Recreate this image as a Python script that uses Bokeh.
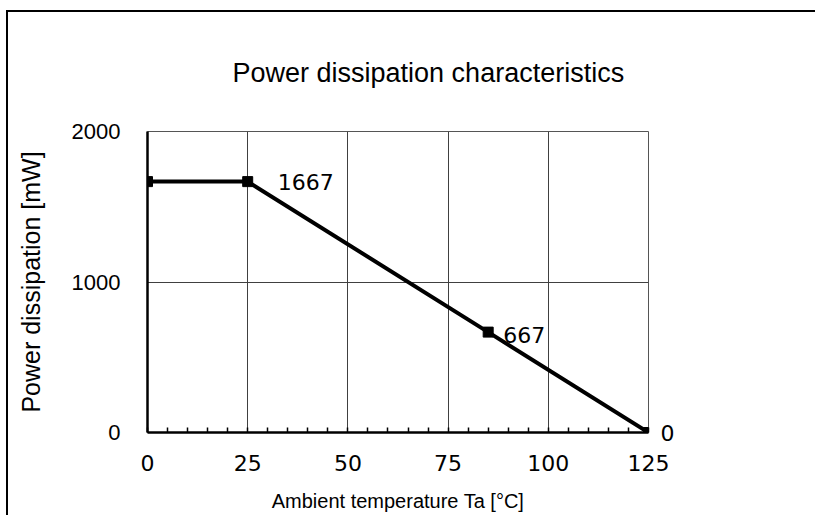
from bokeh.plotting import figure
from bokeh.models import Range1d, FixedTicker, Label, LinearAxis
from bokeh.embed import file_html
from bokeh.resources import INLINE

# Data
temp = [0, 25, 85, 125]
power = [1667, 1667, 667, 0]
x_ticks = [0, 25, 50, 75, 100, 125]
x_minor = list(range(0, 126, 5))
y_ticks = [0, 1000, 2000]
label_idx = [1, 2]
label_text = ["1667", "667"]
end_idx = 3
end_text = "0"

title_text = "Power dissipation characteristics"
x_title = "Ambient temperature Ta [°C]"
y_title = "Power dissipation [mW]"

ARIAL = "Liberation Sans"
NUMF = "DejaVu Sans"

p = figure(width=809, height=505, output_backend="svg", toolbar_location=None,
           x_range=Range1d(0, 125), y_range=Range1d(0, 2000),
           min_border_left=139, min_border_right=169,
           min_border_top=119, min_border_bottom=85)

p.styles = {"margin-left": "6px", "margin-top": "10px",
            "border-left": "2px solid black", "border-top": "2px solid black"}

p.background_fill_color = "white"
p.border_fill_color = "white"
p.outline_line_color = "#555555"
p.outline_line_width = 1

# title
p.title.text = title_text
p.title.text_font = ARIAL
p.title.text_font_size = "27px"
p.title.text_font_style = "normal"
p.title.text_color = "black"
p.title.align = "left"
p.title.offset = 85
p.title.vertical_align = "top"
p.title.standoff = 84

# grids
p.xgrid.ticker = FixedTicker(ticks=x_ticks)
p.ygrid.ticker = FixedTicker(ticks=y_ticks)
for g in (p.xgrid, p.ygrid):
    g.grid_line_color = "#404040"
    g.grid_line_width = 1

# x axis
xa = p.below[0]
xa.ticker = FixedTicker(ticks=x_ticks, minor_ticks=x_minor)
xa.axis_line_width = 2.5
xa.axis_line_color = "black"
xa.major_tick_in = 0
xa.major_tick_out = 0
xa.minor_tick_in = 5
xa.minor_tick_out = 0
xa.minor_tick_line_width = 1.5
xa.minor_tick_line_color = "black"
xa.major_label_standoff = 22
xa.major_label_text_font = NUMF
xa.major_label_text_font_size = "22px"
xa.major_label_text_color = "black"
xa.axis_label = x_title
xa.axis_label_text_font = ARIAL
xa.axis_label_text_font_size = "20px"
xa.axis_label_text_font_style = "normal"
xa.axis_label_text_color = "black"
xa.axis_label_standoff = 16

# y axis
ya = p.left[0]
ya.ticker = FixedTicker(ticks=y_ticks, minor_ticks=[])
ya.axis_line_width = 2.5
ya.axis_line_color = "black"
ya.major_tick_in = 0
ya.major_tick_out = 0
ya.minor_tick_in = 0
ya.minor_tick_out = 0
ya.major_label_standoff = 27
ya.major_label_text_font = ARIAL
ya.major_label_text_font_size = "22px"
ya.major_label_text_color = "black"
ya.axis_label = y_title
ya.axis_label_text_font = ARIAL
ya.axis_label_text_font_size = "25px"
ya.axis_label_text_font_style = "normal"
ya.axis_label_text_color = "black"
ya.axis_label_standoff = 24

# right-side value label for the end point
ra = LinearAxis(ticker=FixedTicker(ticks=[power[end_idx]], minor_ticks=[]),
                major_label_overrides={power[end_idx]: end_text})
ra.axis_line_color = None
ra.major_tick_line_color = None
ra.minor_tick_line_color = None
ra.major_label_standoff = 6
ra.major_label_text_font = NUMF
ra.major_label_text_font_size = "22px"
ra.major_label_text_color = "black"
p.add_layout(ra, "right")

# series
p.line(temp, power, line_width=4, line_color="black")
p.scatter(temp, power, marker="square", size=10, fill_color="black", line_color="black")

# data labels
offsets = [(30, 0), (15, -3)]
for i, txt, (dx, dy) in zip(label_idx, label_text, offsets):
    p.add_layout(Label(x=temp[i], y=power[i], text=txt, x_offset=dx, y_offset=dy,
                       text_font=NUMF, text_font_size="22px", text_color="black",
                       text_baseline="middle", text_align="left"))

open("out.html", "w").write(file_html(p, INLINE))
